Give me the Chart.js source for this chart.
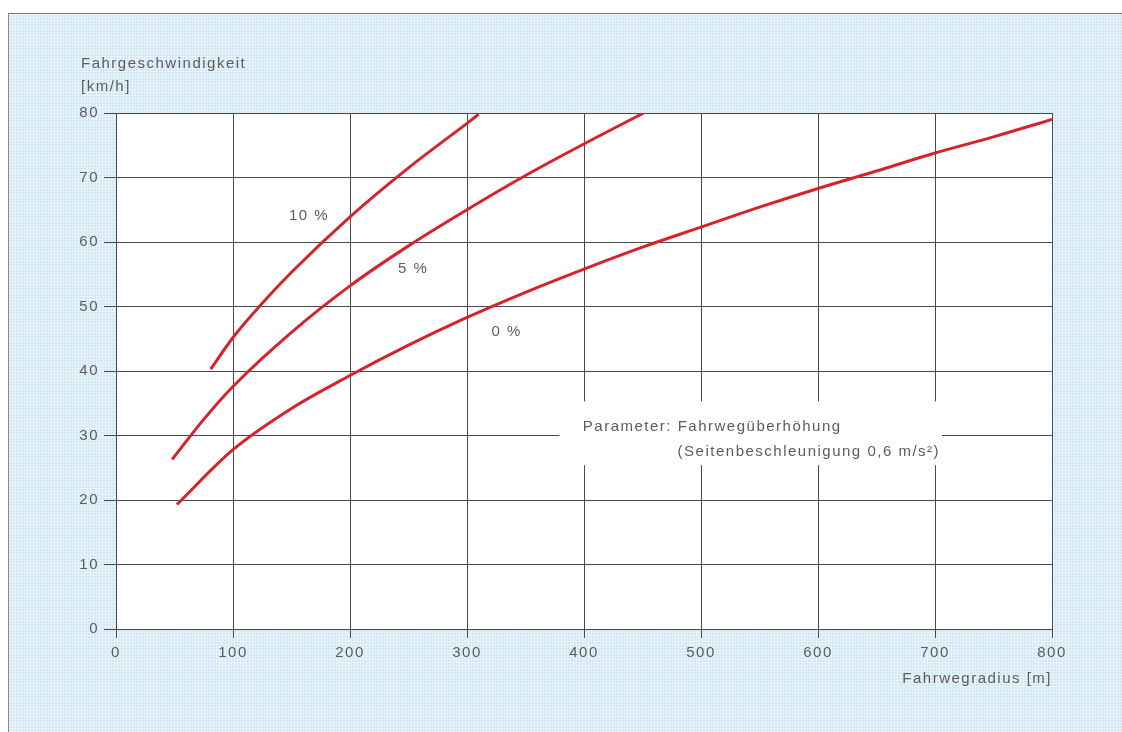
<!DOCTYPE html>
<html>
<head>
<meta charset="utf-8">
<script src="https://cdn.jsdelivr.net/npm/chart.js@4"></script>
<style>
  html, body { margin: 0; padding: 0; background: #fff; }
  #panel {
    position: absolute; left: 8px; top: 13px; right: 0; bottom: 0;
    border-top: 1px solid #777; border-left: 1px solid #888;
    background-color: #d2e8f4;
    background-image:
      repeating-linear-gradient(0deg, rgba(255,255,255,0.45) 0 1px, transparent 1px 3px),
      repeating-linear-gradient(90deg, rgba(255,255,255,0.45) 0 1px, transparent 1px 3px);
  }
  #wrap { position: absolute; left: 0; top: 0; width: 1122px; height: 732px; }
</style>
</head>
<body>
<div id="panel"></div>
<div id="wrap"><canvas id="chart" width="1122" height="732"></canvas></div>
<script>
// Werte (Radius m -> Geschwindigkeit km/h)
const radius0 = [52, 100, 150, 200, 250, 300, 350, 400, 450, 500, 550, 600, 650, 700, 750, 800];
const speed0  = [19.3, 27.8, 34.2, 39.3, 44.0, 48.3, 52.2, 55.8, 59.2, 62.3, 65.4, 68.3, 71.0, 73.8, 76.3, 79.0];
const radius5 = [48, 75, 100, 150, 200, 250, 300, 350, 400, 451];
const speed5  = [26.3, 32.5, 37.6, 46.0, 53.2, 59.4, 65.0, 70.3, 75.2, 80.0];
const radius10 = [81, 100, 125, 150, 200, 250, 300, 310];
const speed10  = [40.3, 45.2, 50.5, 55.3, 63.9, 71.5, 78.4, 79.8];
const curveLabels = ['0 %', '5 %', '10 %'];
const yTitle = ['Fahrgeschwindigkeit', '[km/h]'];
const xTitle = 'Fahrwegradius [m]';
const noteLines = ['Parameter: Fahrwegüberhöhung', '(Seitenbeschleunigung 0,6 m/s²)'];

const toPoints = (xs, ys) => xs.map((x, i) => ({ x: x, y: ys[i] }));

const red = '#d6232b';
const textColor = '#5c5c5c';
const gridColor = '#4a4a4a';

Chart.defaults.font.family = '"Liberation Sans", Arial, sans-serif';
Chart.defaults.font.size = 15;
Chart.defaults.color = textColor;

function setSpacing(chart) { chart.ctx.letterSpacing = '1.5px'; }

const decoPlugin = {
    id: 'deco',
    beforeLayout: setSpacing,
    beforeDraw(chart) {
        setSpacing(chart);
        const a = chart.chartArea, ctx = chart.ctx;
        ctx.save();
        ctx.fillStyle = '#ffffff';
        ctx.fillRect(a.left, a.top, a.right - a.left, a.bottom - a.top);
        // Achsentitel links oben
        ctx.fillStyle = textColor;
        ctx.font = '15px "Liberation Sans", Arial, sans-serif';
        ctx.textAlign = 'left';
        ctx.textBaseline = 'middle';
        ctx.fillText(yTitle[0], a.left - 35, a.top - 49);
        ctx.fillText(yTitle[1], a.left - 35, a.top - 26);
        ctx.restore();
    },
    beforeDatasetsDraw(chart) {
        // weisser Kasten fuer den Parameter-Text
        const x = chart.scales.x, y = chart.scales.y, ctx = chart.ctx;
        const l = x.getPixelForValue(379), r = x.getPixelForValue(706);
        const t = y.getPixelForValue(35.3), b = y.getPixelForValue(25.4);
        ctx.save();
        ctx.fillStyle = '#ffffff';
        ctx.fillRect(l, t, r - l, b - t);
        ctx.restore();
    },
    afterDatasetsDraw(chart) {
        const x = chart.scales.x, y = chart.scales.y, ctx = chart.ctx;
        ctx.save();
        ctx.letterSpacing = '1.5px';
        ctx.fillStyle = textColor;
        ctx.font = '15px "Liberation Sans", Arial, sans-serif';
        ctx.textBaseline = 'middle';
        ctx.textAlign = 'center';
        ctx.fillText(curveLabels[2], x.getPixelForValue(165), y.getPixelForValue(64));
        ctx.fillText(curveLabels[1], x.getPixelForValue(254), y.getPixelForValue(55.8));
        ctx.fillText(curveLabels[0], x.getPixelForValue(334), y.getPixelForValue(46));
        ctx.textAlign = 'left';
        ctx.fillText(noteLines[0], x.getPixelForValue(399), y.getPixelForValue(31.4));
        ctx.fillText(noteLines[1], x.getPixelForValue(480), y.getPixelForValue(27.4));
        ctx.restore();
    }
};

const line = (pts) => ({
    data: pts,
    borderColor: red,
    borderWidth: 3,
    pointRadius: 0,
    fill: false,
    cubicInterpolationMode: 'monotone'
});

new Chart(document.getElementById('chart').getContext('2d'), {
    type: 'line',
    data: {
        datasets: [
            line(toPoints(radius0, speed0)),
            line(toPoints(radius5, speed5)),
            line(toPoints(radius10, speed10))
        ]
    },
    options: {
        responsive: false,
        animation: false,
        layout: { padding: { left: 0, right: 70, top: 113, bottom: 0 } },
        plugins: { legend: { display: false }, tooltip: { enabled: false } },
        scales: {
            x: {
                type: 'linear',
                min: 0, max: 800,
                afterFit: (s) => { s.height = 103; },
                ticks: { stepSize: 100, padding: 6, maxRotation: 0 },
                grid: { color: gridColor, lineWidth: 1, tickLength: 9 },
                border: { color: gridColor, width: 1 },
                title: { display: true, text: xTitle, align: 'end', padding: { top: 0, bottom: 44 } }
            },
            y: {
                min: 0, max: 80,
                afterFit: (s) => { s.width = 116; },
                ticks: { stepSize: 10, padding: 5 },
                grid: { color: gridColor, lineWidth: 1, tickLength: 12 },
                border: { color: gridColor, width: 1 }
            }
        }
    },
    plugins: [decoPlugin]
});
</script>
</body>
</html>
